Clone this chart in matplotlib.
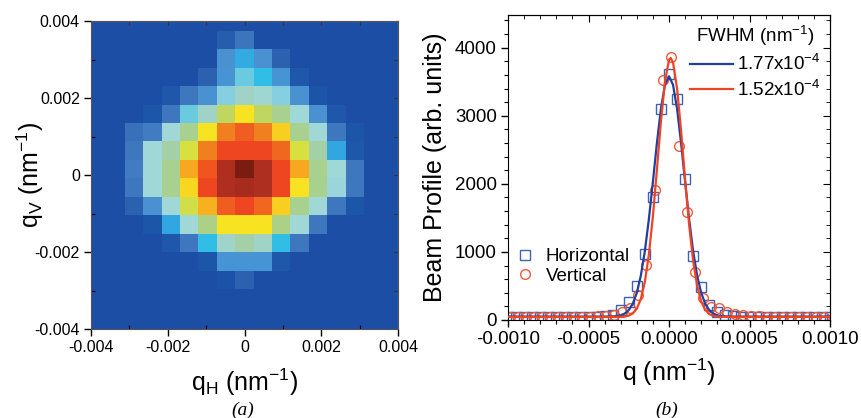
import numpy as np
import matplotlib.pyplot as plt
from matplotlib.colors import LinearSegmentedColormap
from matplotlib.ticker import MultipleLocator

plt.rcParams['font.family'] = ['Liberation Sans', 'DejaVu Sans']
plt.rcParams['mathtext.fontset'] = 'custom'
plt.rcParams['mathtext.rm'] = 'Liberation Sans'
plt.rcParams['mathtext.it'] = 'Liberation Sans:italic'
plt.rcParams['axes.unicode_minus'] = False

### data ###
# (a) beam intensity map, rows top -> bottom, cols left -> right (0-100)
beam_map = [
    [0, 0, 0, 0, 0, 0, 0, 0, 0, 0, 0, 0, 0, 0, 0, 0, 0],
    [0, 0, 0, 0, 0, 0, 0, 8, 15, 0, 0, 0, 0, 0, 0, 0, 0],
    [0, 0, 0, 0, 0, 0, 0, 22, 28, 22, 10, 0, 0, 0, 0, 0, 0],
    [0, 0, 0, 0, 0, 0, 10, 23, 37, 31, 23, 6, 0, 0, 0, 0, 0],
    [0, 0, 0, 0, 6, 16, 22, 41, 48, 46, 41, 22, 4, 0, 0, 0, 0],
    [0, 0, 0, 5, 16, 37, 48, 57, 67, 57, 52, 45, 22, 6, 0, 0, 0],
    [0, 0, 14, 17, 45, 52, 67, 78, 83, 78, 69, 52, 45, 16, 5, 0, 0],
    [0, 0, 16, 45, 50, 61, 78, 86, 86, 86, 81, 61, 50, 27, 6, 0, 0],
    [0, 0, 17, 45, 52, 73, 84, 92, 100, 92, 86, 73, 52, 45, 16, 0, 0],
    [0, 0, 16, 45, 52, 68, 86, 92, 93, 92, 86, 67, 52, 44, 16, 0, 0],
    [0, 0, 10, 22, 45, 60, 72, 83, 86, 81, 69, 52, 45, 16, 5, 0, 0],
    [0, 0, 0, 5, 27, 45, 53, 67, 67, 67, 53, 45, 16, 0, 0, 0, 0],
    [0, 0, 0, 0, 6, 16, 31, 47, 50, 48, 31, 16, 0, 0, 0, 0, 0],
    [0, 0, 0, 0, 0, 0, 5, 23, 23, 23, 6, 0, 0, 0, 0, 0, 0],
    [0, 0, 0, 0, 0, 0, 0, 3, 10, 0, 0, 0, 0, 0, 0, 0, 0],
    [0, 0, 0, 0, 0, 0, 0, 0, 0, 0, 0, 0, 0, 0, 0, 0, 0],
    [0, 0, 0, 0, 0, 0, 0, 0, 0, 0, 0, 0, 0, 0, 0, 0, 0],
    [0, 0, 0, 0, 0, 0, 0, 0, 0, 0, 0, 0, 0, 0, 0, 0, 0],
]
map_extent = [-0.00408, 0.00408, -0.00441, 0.00423]

# (b) profiles, q in units of 1e-4 nm^-1
q_h = [-10, -9.5, -9, -8.5, -8, -7.5, -7, -6.5, -6, -5.5, -5, -4.5, -4, -3.5,
       -3, -2.5, -2, -1.5, -1, -0.5, 0, 0.5, 1, 1.5, 2, 2.5, 3, 3.5, 4, 4.5,
       5, 5.5, 6, 6.5, 7, 7.5, 8, 8.5, 9, 9.5, 10]
prof_h = [40, 40, 40, 40, 40, 40, 40, 40, 42, 45, 45, 50, 55, 80,
          147, 260, 500, 970, 1800, 3100, 3620, 3250, 2075, 945, 480, 220, 122, 70, 55, 50,
          45, 40, 40, 40, 40, 40, 40, 40, 40, 40, 40]
q_v = [-9.9, -9.4, -8.9, -8.4, -7.9, -7.4, -6.9, -6.4, -5.9, -5.4, -4.9, -4.4, -3.9, -3.4,
       -2.9, -2.4, -1.9, -1.4, -0.9, -0.4, 0.1, 0.6, 1.1, 1.6, 2.1, 2.6, 3.1, 3.6, 4.1, 4.6,
       5.1, 5.6, 6.1, 6.6, 7.1, 7.6, 8.1, 8.6, 9.1, 9.6]
prof_v = [45, 45, 45, 45, 45, 45, 45, 45, 45, 45, 50, 55, 60, 75,
          120, 170, 370, 810, 1910, 3530, 3870, 2560, 1580, 700, 320, 195, 170, 120, 90, 70,
          60, 55, 50, 50, 50, 50, 50, 50, 50, 50]

q_fit_h = [-10, -4, -3.5, -3.25, -3, -2.75, -2.5, -2.25, -2, -1.75, -1.5, -1.25, -1, -0.75,
           -0.5, -0.25, 0, 0.25, 0.5, 0.75, 1, 1.25, 1.5, 1.75, 2, 2.25, 2.5, 2.75, 3, 3.25,
           3.5, 4, 10]
fit_h = [50, 50, 53, 58, 69, 95, 145, 239, 399, 651, 1011, 1481, 2030, 2600,
         3105, 3455, 3580, 3455, 3105, 2600, 2030, 1481, 1011, 651, 399, 239, 145, 95, 69, 58,
         53, 50, 50]
q_fit_v = [-10, -4, -3.5, -3.25, -3, -2.75, -2.5, -2.25, -2, -1.75, -1.5, -1.25, -1, -0.75,
           -0.5, -0.25, 0, 0.1, 0.25, 0.5, 0.75, 1, 1.25, 1.5, 1.75, 2, 2.25, 2.5, 2.75, 3,
           3.25, 3.5, 4, 10]
fit_v = [45, 45, 45, 46, 47, 52, 64, 96, 166, 308, 560, 961, 1524, 2209,
         2917, 3503, 3820, 3850, 3784, 3403, 2780, 2066, 1399, 868, 499, 272, 148, 87, 61, 50,
         47, 45, 45, 45]
fwhm_labels = ['1.77x10$^{-4}$', '1.52x10$^{-4}$']

cmap = LinearSegmentedColormap.from_list('beam', [
    (0.00, '#1c4ea6'), (0.05, '#1d57a9'), (0.10, '#2d62b0'), (0.16, '#4079c0'),
    (0.22, '#4a92d2'), (0.27, '#33a6e0'), (0.31, '#30bfe8'), (0.37, '#6ccce0'),
    (0.41, '#88d0e0'), (0.45, '#a0d8d8'), (0.48, '#a0d2c4'), (0.52, '#a8d090'),
    (0.57, '#c0d860'), (0.61, '#d8e040'), (0.67, '#f8e424'), (0.69, '#f8d020'),
    (0.73, '#f8a820'), (0.78, '#f08020'), (0.81, '#f06a20'), (0.84, '#f05820'),
    (0.86, '#f04820'), (0.92, '#b03020'), (1.00, '#7a1c10')])

fig = plt.figure(figsize=(8.61, 4.18), dpi=100)

### (a) ###
ax1 = fig.add_axes([91/861, 1-329/418, 307/861, 308/418])
ax1.imshow(np.array(beam_map), cmap=cmap, vmin=0, vmax=100, extent=map_extent,
           aspect='auto', interpolation='nearest', origin='upper')
ax1.set_xlim(-0.004, 0.004)
ax1.set_ylim(-0.004, 0.004)
ticks = [-0.004, -0.002, 0, 0.002, 0.004]
ticklabels = ['-0.004', '-0.002', '0', '0.002', '0.004']
ax1.set_xticks(ticks)
ax1.set_xticklabels(ticklabels)
ax1.set_yticks(ticks)
ax1.set_yticklabels(ticklabels)
ax1.xaxis.set_minor_locator(MultipleLocator(0.001))
ax1.yaxis.set_minor_locator(MultipleLocator(0.001))
ax1.tick_params(which='major', direction='out', length=5, width=1, labelsize=11.5, pad=3)
ax1.tick_params(which='minor', direction='in', length=3, width=0.8)
for sp in ax1.spines.values():
    sp.set_linewidth(0.8)
    sp.set_color('#555555')
for side in ['top', 'right']:
    if side == 'top':
        sec = ax1.secondary_xaxis('top')
    else:
        sec = ax1.secondary_yaxis('right')
    sec.set_ticks([-0.003, -0.002, -0.001, 0, 0.001, 0.002, 0.003])
    sec.tick_params(direction='in', length=3, width=0.8, labeltop=False, labelright=False,
                    color='#333333')
    sec.spines[side].set_linewidth(0.8)
    sec.spines[side].set_color('#bbbbbb')
ax1.set_xlabel('q$_\\mathrm{H}$ (nm$^{\\mathrm{-1}}$)', fontsize=18, labelpad=8)
ax1.set_ylabel('q$_\\mathrm{V}$ (nm$^{\\mathrm{-1}}$)', fontsize=18)
ax1.yaxis.set_label_coords(-0.148, 0.5)
fig.text(243/861, 1-410/418, '(a)', ha='center', va='center', fontsize=14,
         family='Liberation Serif', style='italic')

### (b) ###
ax2 = fig.add_axes([508/861, 1-320/418, 322/861, 305/418])
qh = np.array(q_h) * 1e-4
qv = np.array(q_v) * 1e-4
sq, = ax2.plot(qh, prof_h, 's', mfc='none', mec='#3c63b8', mew=1.0, ms=6.5,
               label='Horizontal', zorder=2)
ci, = ax2.plot(qv, prof_v, 'o', mfc='none', mec='#f05a3a', mew=1.0, ms=7,
               label='Vertical', zorder=2)
lh, = ax2.plot(np.array(q_fit_h) * 1e-4, fit_h, '-', color='#203f9e', lw=1.6, zorder=3)
lv, = ax2.plot(np.array(q_fit_v) * 1e-4, fit_v, '-', color='#ef4423', lw=1.6, zorder=4)
ax2.set_xlim(-0.001, 0.001)
ax2.set_ylim(0, 4480)
ax2.set_xticks([-0.001, -0.0005, 0, 0.0005, 0.001])
ax2.set_xticklabels(['-0.0010', '-0.0005', '0.0000', '0.0005', '0.0010'])
ax2.set_yticks([0, 1000, 2000, 3000, 4000])
ax2.xaxis.set_minor_locator(MultipleLocator(0.0001))
ax2.yaxis.set_minor_locator(MultipleLocator(200))
ax2.tick_params(which='major', direction='out', length=5, width=1, labelsize=13.5, pad=3)
ax2.tick_params(which='minor', direction='out', length=3, width=0.8)
secx = ax2.secondary_xaxis('top')
secx.xaxis.set_minor_locator(MultipleLocator(0.0001))
secx.set_xticks([-0.001, -0.0005, 0, 0.0005, 0.001])
secx.tick_params(which='both', direction='in', labeltop=False)
secx.tick_params(which='major', length=5)
secx.tick_params(which='minor', length=3)
secy = ax2.secondary_yaxis('right')
secy.yaxis.set_minor_locator(MultipleLocator(200))
secy.set_yticks([0, 1000, 2000, 3000, 4000])
secy.tick_params(which='both', direction='in', labelright=False)
secy.tick_params(which='major', length=5)
secy.tick_params(which='minor', length=3)
ax2.set_xlabel('q (nm$^{\\mathrm{-1}}$)', fontsize=18, labelpad=6)
ax2.set_ylabel('Beam Profile (arb. units)', fontsize=18, labelpad=6)

leg1 = ax2.legend([lh, lv], fwhm_labels, title='FWHM (nm$^{\\mathrm{-1}}$)',
                  loc='upper right', frameon=False, fontsize=13.5, title_fontsize=13.5,
                  handlelength=2.3, handletextpad=0.2, labelspacing=0.3,
                  borderaxespad=0.2, borderpad=0.3)
ax2.add_artist(leg1)
ax2.legend(handles=[sq, ci], loc='lower left', bbox_to_anchor=(0.0, 0.09),
           frameon=False, fontsize=13.5, handlelength=1.0, handletextpad=0.6,
           labelspacing=0.15, borderaxespad=0.2, borderpad=0.2)
fig.text(667/861, 1-410/418, '(b)', ha='center', va='center', fontsize=14,
         family='Liberation Serif', style='italic')

plt.savefig('out.png', dpi=100)
